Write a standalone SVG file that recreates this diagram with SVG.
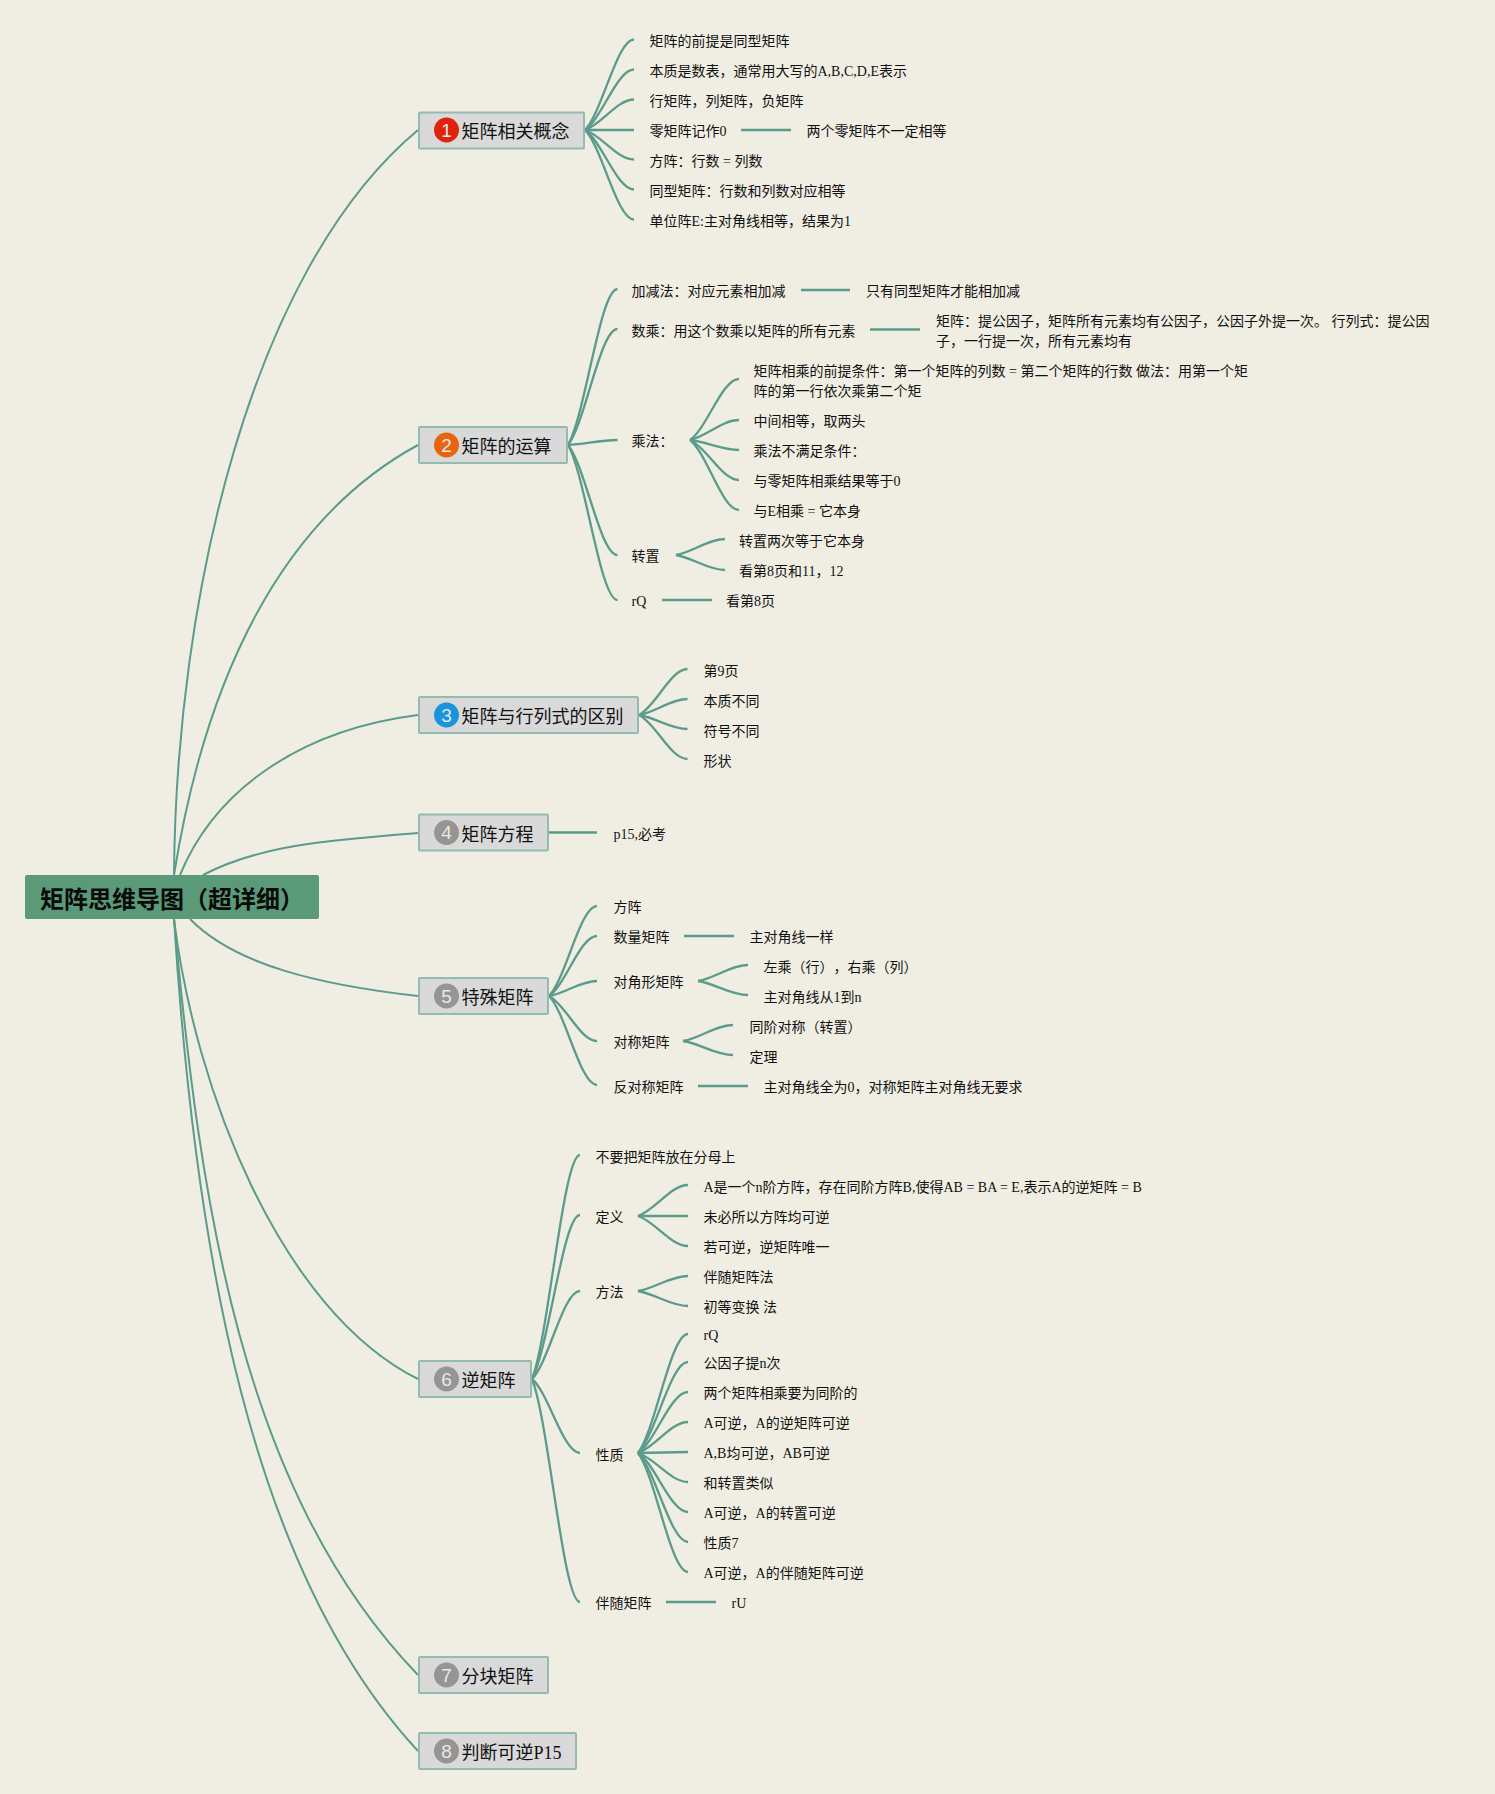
<svg xmlns="http://www.w3.org/2000/svg" width="1495" height="1794" viewBox="0 0 1495 1794">
<style>
text{font-family:"Liberation Serif","Noto Sans CJK SC",serif;fill:#111;text-spacing-trim:space-all}
.l{font-size:14px}
.t{font-size:18px}
.r{font-size:24px;font-weight:700;font-family:"Noto Sans CJK SC",sans-serif;fill:#0a0a0a}
.b{fill:#d9d9d9;stroke:#94bbb0;stroke-width:2}
.d{font-size:19px;font-family:"Liberation Sans",sans-serif;fill:#e8e8e8;text-anchor:middle}
#connectors path{fill:none;stroke:#5b9b8b;stroke-width:2.300}
#connectors .m{stroke-width:2}
</style>
<rect width="1495" height="1794" fill="#f0eee3"/>
<g id="connectors">
<path class="m" d="M174 875C176 600 250 270 418 130"/>
<path class="m" d="M174 875C205 680 280 520 418 445"/>
<path class="m" d="M180 875C215 790 300 730 418 715"/>
<path class="m" d="M203 875C260 845 330 840 418 833"/>
<path class="m" d="M190 919C235 965 320 985 418 996"/>
<path class="m" d="M174 919C195 1090 280 1310 418 1379"/>
<path class="m" d="M174 919C200 1200 240 1490 418 1675"/>
<path class="m" d="M174 919C195 1250 250 1570 418 1751"/>
<path d="M585 130C602 112.800 617 39.500 634 39.500"/>
<path d="M585 130C602 118.500 617 69.500 634 69.500"/>
<path d="M585 130C602 124.200 617 99.500 634 99.500"/>
<path d="M585 130L634 130"/>
<path d="M585 130C602 135.600 617 159.500 634 159.500"/>
<path d="M585 130C602 141.300 617 189.500 634 189.500"/>
<path d="M585 130C602 147 617 219.500 634 219.500"/>
<path d="M741 130L791 130"/>
<path d="M568 445C585.300 415.400 600.200 289 617.500 289"/>
<path d="M568 445C585.300 423 600.200 329 617.500 329"/>
<path d="M568 445C585.300 444 600.200 440 617.500 440"/>
<path d="M568 445C585.300 465.900 600.200 555 617.500 555"/>
<path d="M568 445C585.300 474.500 600.200 600 617.500 600"/>
<path d="M801 290L850 290"/>
<path d="M870 329.500L920 329.500"/>
<path d="M690 440C707 428.400 722 379 739 379"/>
<path d="M690 440C707 436.200 722 420 739 420"/>
<path d="M690 440C707 441.900 722 450 739 450"/>
<path d="M690 440C707 447.600 722 480 739 480"/>
<path d="M690 440C707 453.300 722 510 739 510"/>
<path d="M676 555C693 552 708 539 725 539"/>
<path d="M676 555C693 557.900 708 570 725 570"/>
<path d="M662 600L712 600"/>
<path d="M639 715C656 706.300 670.500 669 687.500 669"/>
<path d="M639 715C656 712 670.500 699 687.500 699"/>
<path d="M639 715C656 717.700 670.500 729 687.500 729"/>
<path d="M639 715C656 723.400 670.500 759 687.500 759"/>
<path d="M549 832.500L597 832.500"/>
<path d="M549 996C565.800 978.900 580.200 906 597 906"/>
<path d="M549 996C565.800 984.600 580.200 936 597 936"/>
<path d="M549 996C565.800 993.100 580.200 981 597 981"/>
<path d="M549 996C565.800 1004.600 580.200 1041 597 1041"/>
<path d="M549 996C565.800 1012.900 580.200 1085 597 1085"/>
<path d="M684 936L734 936"/>
<path d="M698 981C715.500 978 730.500 965 748 965"/>
<path d="M698 981C715.500 983.700 730.500 995 748 995"/>
<path d="M683 1041C700.500 1038 715.500 1025 733 1025"/>
<path d="M683 1041C700.500 1043.700 715.500 1055 733 1055"/>
<path d="M698 1086L748 1086"/>
<path d="M532 1379C548.800 1336.400 563.200 1155 580 1155"/>
<path d="M532 1379C548.800 1347.800 563.200 1215 580 1215"/>
<path d="M532 1379C548.800 1362.300 563.200 1291 580 1291"/>
<path d="M532 1379C548.800 1393 563.200 1453 580 1453"/>
<path d="M532 1379C548.800 1421.400 563.200 1602 580 1602"/>
<path d="M638 1216C655.500 1210 670.500 1185 688 1185"/>
<path d="M638 1216L688 1216"/>
<path d="M638 1216C655.500 1221.700 670.500 1246 688 1246"/>
<path d="M638 1291C655.500 1288 670.500 1276 688 1276"/>
<path d="M638 1291C655.500 1294 670.500 1306 688 1306"/>
<path d="M638 1453C655.500 1430.400 670.500 1334 688 1334"/>
<path d="M638 1453C655.500 1435.700 670.500 1362 688 1362"/>
<path d="M638 1453C655.500 1441.400 670.500 1392 688 1392"/>
<path d="M638 1453C655.500 1447.100 670.500 1422 688 1422"/>
<path d="M638 1453L688 1452"/>
<path d="M638 1453C655.500 1458.500 670.500 1482 688 1482"/>
<path d="M638 1453C655.500 1464.200 670.500 1512 688 1512"/>
<path d="M638 1453C655.500 1469.900 670.500 1542 688 1542"/>
<path d="M638 1453C655.500 1475.600 670.500 1572 688 1572"/>
<path d="M666 1602L716 1602"/>
</g>
<g id="root"><rect x="25" y="875" width="294" height="44" rx="2" fill="#5a9a78"/><text class="r" x="40" y="908">矩阵思维导图（超详细）</text></g>
<g id="topic1"><rect class="b" x="419" y="112.500" width="165" height="36" rx="1"/><circle cx="446.500" cy="130" r="12.500" fill="#e0230d"/><text class="d" x="446.500" y="136.500">1</text><text class="t" x="461.500" y="138">矩阵相关概念</text></g>
<g id="topic2"><rect class="b" x="419" y="427" width="148" height="36" rx="1"/><circle cx="446.500" cy="445" r="12.500" fill="#e8650f"/><text class="d" x="446.500" y="451.500">2</text><text class="t" x="461.500" y="453">矩阵的运算</text></g>
<g id="topic3"><rect class="b" x="419" y="697" width="219" height="36" rx="1"/><circle cx="446.500" cy="715" r="12.500" fill="#1a95dd"/><text class="d" x="446.500" y="721.500">3</text><text class="t" x="461.500" y="723">矩阵与行列式的区别</text></g>
<g id="topic4"><rect class="b" x="419" y="814.500" width="129" height="36" rx="1"/><circle cx="446.500" cy="832.500" r="12.500" fill="#959595"/><text class="d" x="446.500" y="839">4</text><text class="t" x="461.500" y="841">矩阵方程</text></g>
<g id="topic5"><rect class="b" x="419" y="978" width="129" height="36" rx="1"/><circle cx="446.500" cy="996" r="12.500" fill="#959595"/><text class="d" x="446.500" y="1002.500">5</text><text class="t" x="461.500" y="1004">特殊矩阵</text></g>
<g id="topic6"><rect class="b" x="419" y="1361" width="112" height="36" rx="1"/><circle cx="446.500" cy="1379" r="12.500" fill="#959595"/><text class="d" x="446.500" y="1385.500">6</text><text class="t" x="461.500" y="1387">逆矩阵</text></g>
<g id="topic7"><rect class="b" x="419" y="1657" width="129" height="36" rx="1"/><circle cx="446.500" cy="1675" r="12.500" fill="#959595"/><text class="d" x="446.500" y="1681.500">7</text><text class="t" x="461.500" y="1683">分块矩阵</text></g>
<g id="topic8"><rect class="b" x="419" y="1733" width="157" height="36" rx="1"/><circle cx="446.500" cy="1751" r="12.500" fill="#959595"/><text class="d" x="446.500" y="1757.500">8</text><text class="t" x="461.500" y="1759">判断可逆P15</text></g>
<g id="leaves1">
<text class="l" x="649.500" y="46">矩阵的前提是同型矩阵</text>
<text class="l" x="649.500" y="76">本质是数表，通常用大写的A,B,C,D,E表示</text>
<text class="l" x="649.500" y="106">行矩阵，列矩阵，负矩阵</text>
<text class="l" x="649.500" y="136">零矩阵记作0</text>
<text class="l" x="806.500" y="136">两个零矩阵不一定相等</text>
<text class="l" x="649.500" y="166">方阵：行数 = 列数</text>
<text class="l" x="649.500" y="196">同型矩阵：行数和列数对应相等</text>
<text class="l" x="649.500" y="226">单位阵E:主对角线相等，结果为1</text>
</g>
<g id="leaves2">
<text class="l" x="631.500" y="296">加减法：对应元素相加减</text>
<text class="l" x="866" y="296">只有同型矩阵才能相加减</text>
<text class="l" x="631.500" y="336">数乘：用这个数乘以矩阵的所有元素</text>
<text class="l" x="936" y="326">矩阵：提公因子，矩阵所有元素均有公因子，公因子外提一次。 行列式：提公因</text>
<text class="l" x="936" y="346">子，一行提一次，所有元素均有</text>
<text class="l" x="631.500" y="446">乘法：</text>
<text class="l" x="753.500" y="376">矩阵相乘的前提条件：第一个矩阵的列数 = 第二个矩阵的行数 做法：用第一个矩</text>
<text class="l" x="753.500" y="396">阵的第一行依次乘第二个矩</text>
<text class="l" x="753.500" y="426">中间相等，取两头</text>
<text class="l" x="753.500" y="456">乘法不满足条件：</text>
<text class="l" x="753.500" y="486">与零矩阵相乘结果等于0</text>
<text class="l" x="753.500" y="516">与E相乘 = 它本身</text>
<text class="l" x="631.500" y="561">转置</text>
<text class="l" x="739" y="546">转置两次等于它本身</text>
<text class="l" x="739" y="576">看第8页和11，12</text>
<text class="l" x="631.500" y="606">rQ</text>
<text class="l" x="726" y="606">看第8页</text>
</g>
<g id="leaves3">
<text class="l" x="703.500" y="676">第9页</text>
<text class="l" x="703.500" y="706">本质不同</text>
<text class="l" x="703.500" y="736">符号不同</text>
<text class="l" x="703.500" y="766">形状</text>
</g>
<g id="leaves4"><text class="l" x="613.500" y="839">p15,必考</text></g>
<g id="leaves5">
<text class="l" x="613.500" y="912">方阵</text>
<text class="l" x="613.500" y="942">数量矩阵</text>
<text class="l" x="749.500" y="942">主对角线一样</text>
<text class="l" x="613.500" y="987">对角形矩阵</text>
<text class="l" x="763.500" y="972">左乘（行），右乘（列）</text>
<text class="l" x="763.500" y="1002">主对角线从1到n</text>
<text class="l" x="613.500" y="1047">对称矩阵</text>
<text class="l" x="749.500" y="1032">同阶对称（转置）</text>
<text class="l" x="749.500" y="1062">定理</text>
<text class="l" x="613.500" y="1092">反对称矩阵</text>
<text class="l" x="763.500" y="1091.500">主对角线全为0，对称矩阵主对角线无要求</text>
</g>
<g id="leaves6">
<text class="l" x="595.500" y="1162">不要把矩阵放在分母上</text>
<text class="l" x="595.500" y="1222">定义</text>
<text class="l" x="703.500" y="1192">A是一个n阶方阵，存在同阶方阵B,使得AB = BA = E,表示A的逆矩阵 = B</text>
<text class="l" x="703.500" y="1222">未必所以方阵均可逆</text>
<text class="l" x="703.500" y="1252">若可逆，逆矩阵唯一</text>
<text class="l" x="595.500" y="1297">方法</text>
<text class="l" x="703.500" y="1282">伴随矩阵法</text>
<text class="l" x="703.500" y="1312">初等变换 法</text>
<text class="l" x="595.500" y="1460">性质</text>
<text class="l" x="703.500" y="1340">rQ</text>
<text class="l" x="703.500" y="1368">公因子提n次</text>
<text class="l" x="703.500" y="1398">两个矩阵相乘要为同阶的</text>
<text class="l" x="703.500" y="1428">A可逆，A的逆矩阵可逆</text>
<text class="l" x="703.500" y="1458">A,B均可逆，AB可逆</text>
<text class="l" x="703.500" y="1488">和转置类似</text>
<text class="l" x="703.500" y="1518">A可逆，A的转置可逆</text>
<text class="l" x="703.500" y="1548">性质7</text>
<text class="l" x="703.500" y="1578">A可逆，A的伴随矩阵可逆</text>
<text class="l" x="595.500" y="1608">伴随矩阵</text>
<text class="l" x="731.500" y="1608">rU</text>
</g>
</svg>
